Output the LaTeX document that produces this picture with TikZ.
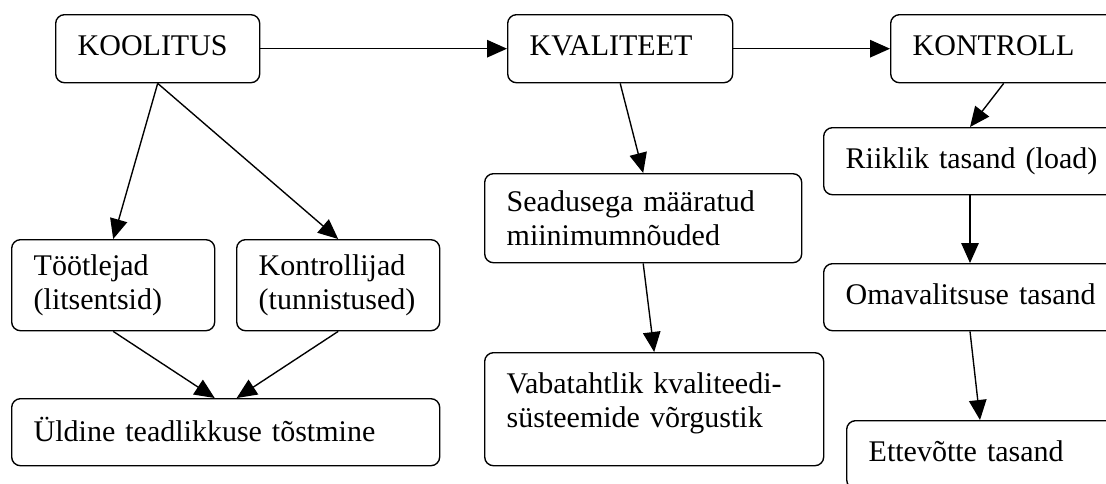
\documentclass[tikz,border=0pt]{standalone}
\usepackage{fontspec}
\setmainfont{Liberation Serif}
\usetikzlibrary{arrows.meta, calc}

\begin{document}
\begin{tikzpicture}[
    x=0.4pt, y=-0.4pt,
    font=\fontsize{12}{13.6}\selectfont,
    >={Triangle[length=8pt, width=7pt]},
    blok/.style={rectangle, draw=black, line width=0.55pt, rounded corners=3.5pt, anchor=north west, align=left, inner xsep=8.8pt, inner ysep=0pt},
    rida/.style={blok, text depth=2.5pt},
    line/.style={draw, ->, line width=0.55pt, black}
]
\useasboundingbox (0,0) rectangle (1106,483);

% Top row
\node[rida, text width=64pt, minimum height=27.2pt] (koolitus) at (55,14) {KOOLITUS};
\node[rida, text width=72.4pt, minimum height=27.2pt] (kvaliteet) at (507,14) {KVALITEET};
\node[rida, text width=72.8pt, minimum height=27.2pt] (kontroll) at (890,14) {KONTROLL};

% Koolitus branch
\node[blok, text width=63.6pt, minimum height=36.4pt] (tootlejad) at (11,239) {Töötlejad\\(litsentsid)};
\node[blok, text width=63.6pt, minimum height=36.4pt] (kontrollijad) at (236,239) {Kontrollijad\\(tunnistused)};
\node[rida, text width=153.6pt, minimum height=26.8pt] (uldine) at (11,398) {Üldine teadlikkuse tõstmine};

% Kvaliteet branch
\node[blok, text width=109.2pt, minimum height=35.6pt] (seadus) at (484,173) {Seadusega määratud\\miinimumnõuded};
\node[blok, text width=118pt, minimum height=45.2pt, text depth=21pt] (vabatahtlik) at (484,352) {Vabatahtlik kvaliteedi-\\süsteemide võrgustik};

% Kontroll branch (boxes run past the right edge)
\node[rida, text width=130pt, minimum height=26.8pt] (riiklik) at (823,127) {Riiklik tasand (load)};
\node[rida, text width=130pt, minimum height=26.8pt] (omavalitsus) at (823,263) {Omavalitsuse tasand};
\node[rida, text width=120pt, minimum height=27.2pt] (ettevote) at (846,420) {Ettevõtte tasand};

% Edges
\draw[line] (koolitus) -- (kvaliteet);
\draw[line] (kvaliteet) -- (kontroll);
\draw[line] (koolitus.south) -- (tootlejad.north);
\draw[line] (koolitus.south) -- (kontrollijad.north);
\draw[line] (tootlejad.south) -- ([xshift=-4.4pt]uldine.north);
\draw[line] (kontrollijad.south) -- ([xshift=4.4pt]uldine.north);
\draw[line] (kvaliteet.south) -- (seadus.north);
\draw[line] (seadus.south) -- (vabatahtlik.north);
\draw[line] (kontroll.south) -- ($(riiklik.north west)+(147,0)$);
\draw[line] ($(riiklik.south west)+(147,0)$) -- ($(omavalitsus.north west)+(147,0)$);
\draw[line] ($(omavalitsus.south west)+(147,0)$) -- ($(ettevote.north west)+(134,0)$);

\end{tikzpicture}
\end{document}
